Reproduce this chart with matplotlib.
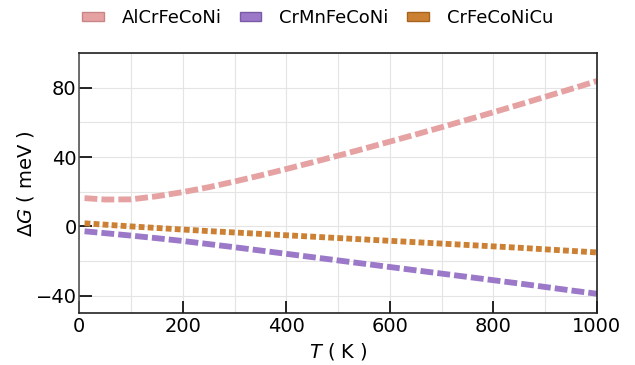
import matplotlib

matplotlib.use("Agg")
import matplotlib.pyplot as plt
from matplotlib.patches import Patch
from matplotlib.ticker import MultipleLocator

T = [10, 50, 100, 150, 200, 250, 300, 350, 400, 450, 500, 550, 600, 650, 700,
     750, 800, 850, 900, 950, 1000]
dg_alcr = [16.3, 15.5, 15.6, 17.4, 19.8, 22.6, 25.9, 29.4, 33.1, 36.9, 40.8, 44.8,
           48.9, 53.0, 57.2, 61.5, 65.8, 70.2, 74.7, 79.2, 83.8]
dg_crmn = [-2.8, -3.9, -5.3, -6.8, -8.4, -10.2, -12.0, -13.9, -15.8, -17.7, -19.6,
           -21.5, -23.4, -25.3, -27.2, -29.1, -31.0, -32.9, -34.9, -36.9, -38.8]
dg_crcu = [1.8, 1.0, 0.0, -0.9, -1.8, -2.7, -3.5, -4.3, -5.1, -5.9, -6.7, -7.5,
           -8.3, -9.1, -9.9, -10.7, -11.5, -12.3, -13.2, -14.1, -15.0]

names = ["AlCrFeCoNi", "CrMnFeCoNi", "CrFeCoNiCu"]
colors = ["#e6a2a2", "#9b78c8", "#cc8033"]
edges = ["#c98686", "#7a5aa6", "#a8631f"]

fig, ax = plt.subplots(figsize=(6.35, 3.65), dpi=100)
ax.plot(T, dg_alcr, ls=(0, (2.2, 0.7)), lw=4.2, color=colors[0])
ax.plot(T, dg_crmn, ls=(0, (2.2, 0.7)), lw=4.2, color=colors[1])
ax.plot(T, dg_crcu, ls=(0, (1, 0.55)), lw=4.2, color=colors[2])

ax.set_xlim(0, 1000)
ax.set_ylim(-50, 100)
ax.xaxis.set_major_locator(MultipleLocator(200))
ax.xaxis.set_minor_locator(MultipleLocator(100))
ax.yaxis.set_minor_locator(MultipleLocator(20))
ax.set_yticks([-40, 0, 40, 80])
ax.grid(which="both", color="#e4e4e4", lw=0.8)
ax.tick_params(which="major", direction="in", length=9, width=1.2, labelsize=14, pad=3)
ax.tick_params(axis="y", pad=2)
ax.tick_params(which="minor", length=0)
for s in ax.spines.values():
    s.set_color("#222222")
    s.set_linewidth(1.2)
ax.spines["left"].set_color("#555555")

ax.set_xlabel(r"$T$ ( K )", fontsize=14, labelpad=3)
ax.set_ylabel(r"$\Delta G$ ( meV )", fontsize=14, labelpad=0)

handles = [Patch(facecolor=c, edgecolor=e, label=n) for c, e, n in zip(colors, edges, names)]
fig.legend(handles=handles, loc="upper center", ncol=3, frameon=False, fontsize=13,
           bbox_to_anchor=(0.5, 1.02), handlelength=1.2, handleheight=0.4,
           columnspacing=1.0, handletextpad=1.0)

fig.subplots_adjust(left=0.125, right=0.94, top=0.855, bottom=0.142)
fig.savefig("out.png", dpi=100)
